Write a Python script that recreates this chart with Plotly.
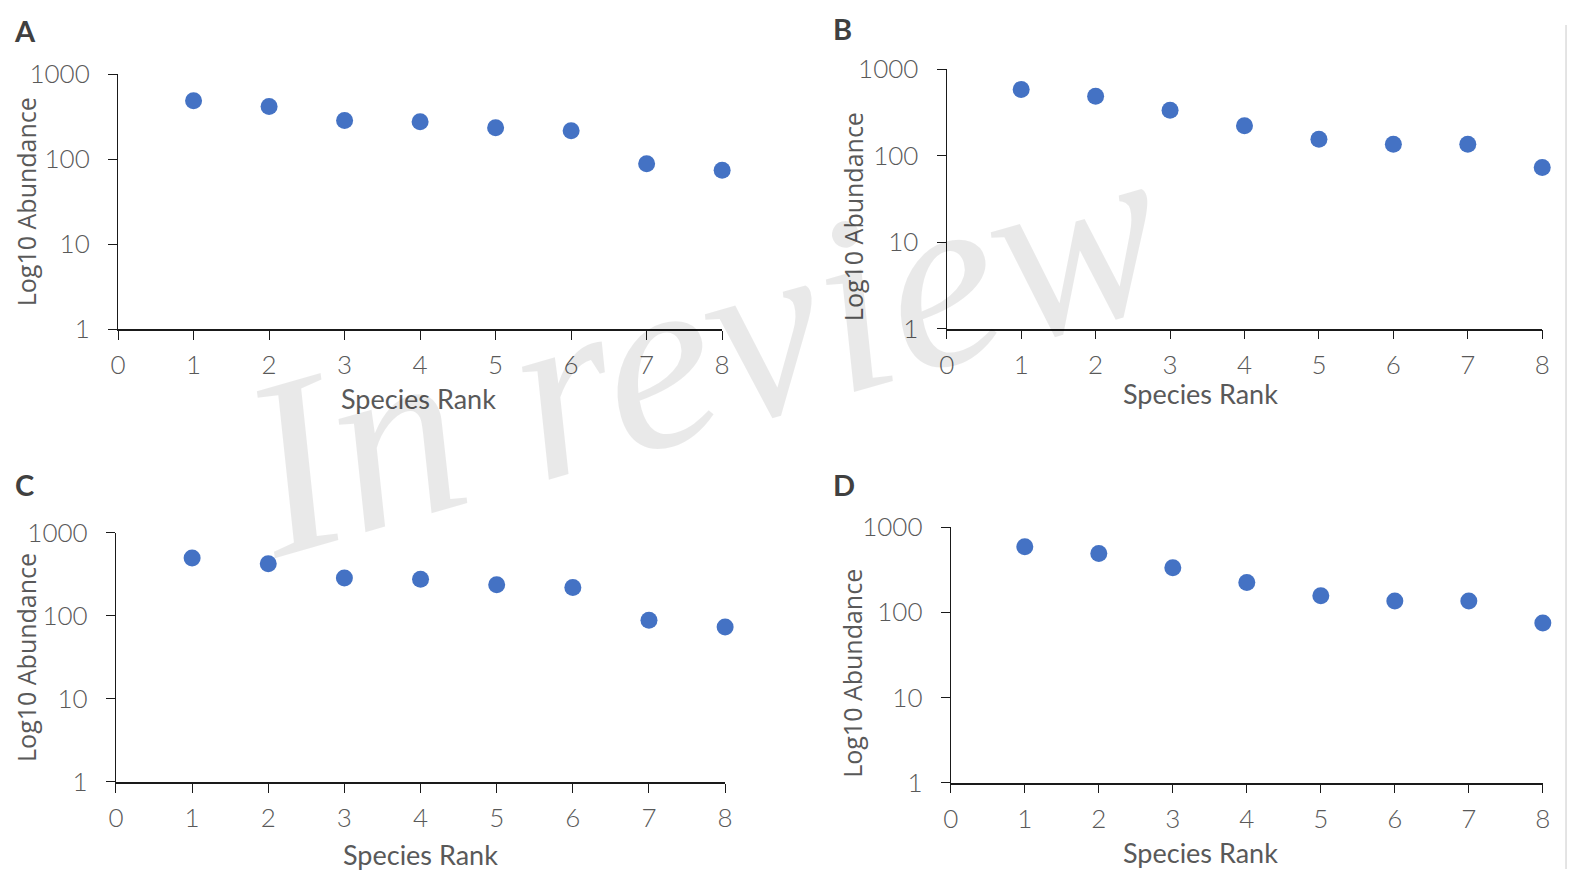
import plotly.graph_objects as go

W, H = 1575, 876

ranks = [1, 2, 3, 4, 5, 6, 7, 8]
abund_A = [486, 414, 284, 274, 233, 215, 88, 74]
abund_B = [583, 485, 334, 221, 155, 135, 135, 73]
abund_C = [496, 421, 284, 274, 236, 219, 88, 73]
abund_D = [589, 492, 334, 225, 157, 136, 136, 75]
panel_labels = ["A", "B", "C", "D"]
x_ticks = [0, 1, 2, 3, 4, 5, 6, 7, 8]
y_tickvals = [1, 10, 100, 1000]
y_ticktext = ["1", "10", "100", "1000"]
x_title = "Species Rank"
y_title = "Log10 Abundance"
watermark = "In review"

series = [abund_A, abund_B, abund_C, abund_D]

# figure-pixel geometry of each panel: (x_left, x_right, y_top, y_bottom)
boxes = [
    (103.1, 713.4, 50.9, 315.7),
    (940.3, 1541.9, 45.8, 315.1),
    (101.0, 716.4, 526.9, 785.5),
    (944.4, 1542.5, 521.3, 786.3),
]
letter_pos = [(9, 6), (835, 4), (9, 477), (837, 477)]
ytitle_pos = [(10, 183), (845, 199), (10, 656), (845, 673)]
xtitle_pos = [(407, 388), (1197, 382), (409, 861), (1197, 859)]

BLUE = "#4472C4"
GRAY = "#595959"
AX = "#1a1a1a"

def px(x):
    return x / W

def py(y):
    return 1 - y / H

fig = go.Figure()
layout = dict(
    width=W, height=H,
    margin=dict(l=0, r=0, t=0, b=0),
    paper_bgcolor="white", plot_bgcolor="rgba(0,0,0,0)",
    showlegend=False,
    annotations=[], shapes=[],
)

for i, (vals, box) in enumerate(zip(series, boxes)):
    n = i + 1
    xa = "x" if n == 1 else f"x{n}"
    ya = "y" if n == 1 else f"y{n}"
    fig.add_trace(go.Scatter(
        x=ranks, y=vals, mode="markers", xaxis=xa, yaxis=ya,
        marker=dict(size=17, color=BLUE, line=dict(width=0)),
        cliponaxis=False, hoverinfo="x+y",
    ))
    xl, xr, yt, yb = box
    key_x = "xaxis" if n == 1 else f"xaxis{n}"
    key_y = "yaxis" if n == 1 else f"yaxis{n}"
    layout[key_x] = dict(
        domain=[px(xl), px(xr)], anchor=ya, range=[0, 8],
        tickmode="array", tickvals=x_ticks, ticktext=[str(t) for t in x_ticks],
        showgrid=False, zeroline=False, showline=True, linecolor=AX, linewidth=1.5,
        ticks="outside", ticklen=9, tickwidth=1.2, tickcolor=AX,
        tickfont=dict(family="Lato", size=26, color=GRAY, weight=300),
        ticklabelstandoff=3,
    )
    layout[key_y] = dict(
        domain=[py(yb), py(yt)], anchor=xa, type="log", range=[0, 3],
        tickmode="array", tickvals=y_tickvals, ticktext=y_ticktext,
        showgrid=False, zeroline=False, showline=True, linecolor=AX, linewidth=1.2,
        ticks="outside", ticklen=9, tickwidth=1.2, tickcolor=AX,
        tickfont=dict(family="Lato", size=26, color=GRAY, weight=300),
        ticklabelstandoff=13,
    )
    lx, ly = letter_pos[i]
    layout["annotations"].append(dict(
        text=panel_labels[i], x=px(lx), y=py(ly), xref="paper", yref="paper",
        showarrow=False, xanchor="center", yanchor="middle",
        font=dict(family="Lato", size=29, color="#404040", weight="bold"),
    ))
    tx, ty = ytitle_pos[i]
    layout["annotations"].append(dict(
        text=y_title, x=px(tx), y=py(ty), xref="paper", yref="paper",
        showarrow=False, xanchor="center", yanchor="middle", textangle=-90,
        font=dict(family="Open Sans", size=25, color=GRAY),
    ))
    tx, ty = xtitle_pos[i]
    layout["annotations"].append(dict(
        text=x_title, x=px(tx), y=py(ty), xref="paper", yref="paper",
        showarrow=False, xanchor="center", yanchor="middle",
        font=dict(family="Lato", size=27, color=GRAY),
    ))

# watermark
layout["annotations"].append(dict(
    text=watermark, x=px(694), y=py(334), xref="paper", yref="paper",
    showarrow=False, xanchor="center", yanchor="middle", textangle=-16,
    font=dict(family="Liberation Serif", size=253, color="rgba(0,0,0,0.085)", style="italic"),
))

# light grey strip on the right edge
layout["shapes"].append(dict(type="rect", xref="paper", yref="paper",
                             x0=px(1565), x1=1, y0=0, y1=1,
                             fillcolor="#e3e3e3", line=dict(width=0), layer="below"))

fig.update_layout(**layout)
fig.write_html("out.html")
